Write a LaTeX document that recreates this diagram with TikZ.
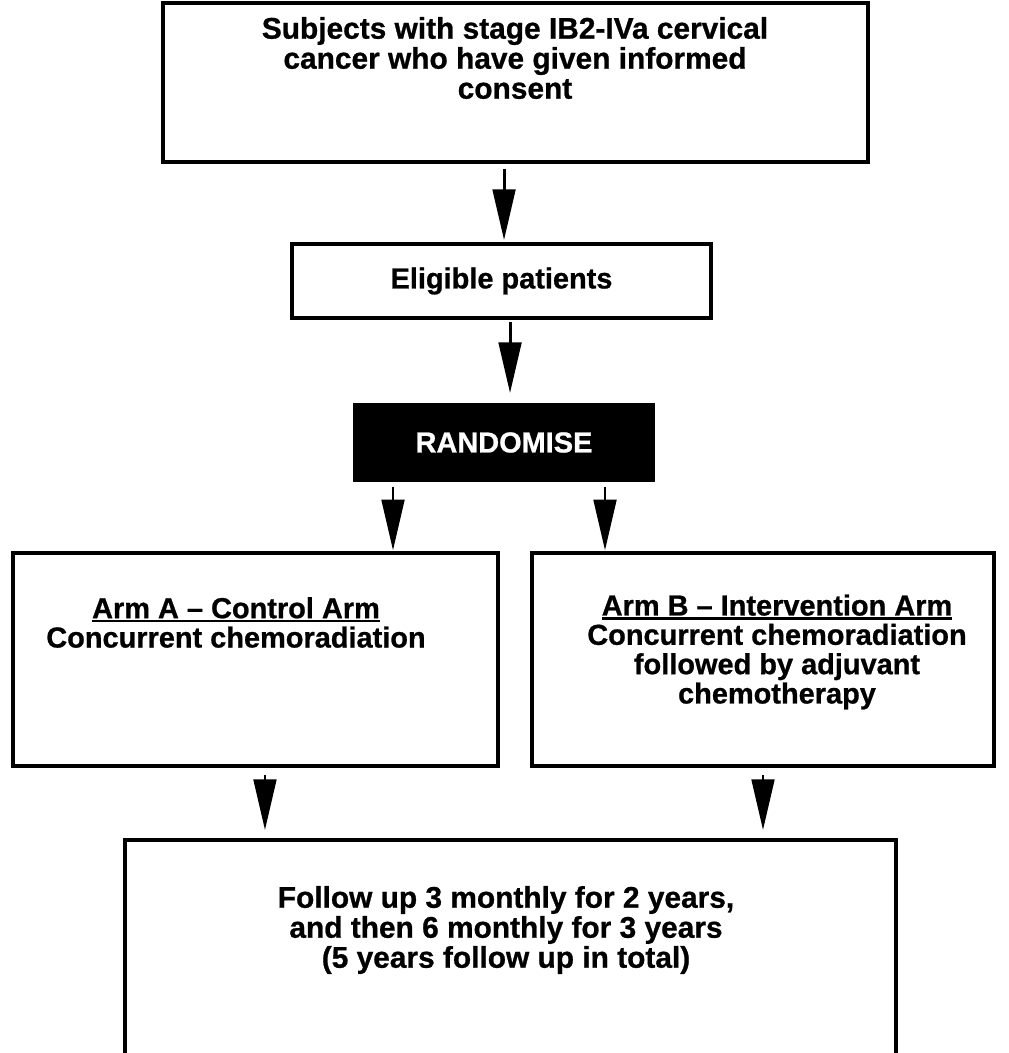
\documentclass[tikz,border=0pt]{standalone}
\usepackage{fontspec}
\setmainfont{Liberation Sans}[BoldFeatures={FakeBold=0.8}]
\usetikzlibrary{arrows.meta,positioning}

\newcommand{\armtitle}[1]{\setbox0\hbox{#1}\rlap{\rule[-3.2pt]{\wd0}{1.8pt}}\box0}

\tikzset{
    box/.style={draw, line width=2.8pt, inner sep=0pt, outer sep=0pt, fill=white},
    txt/.style={align=center, inner sep=0pt, font=\bfseries\fontsize{21.7}{22}\selectfont},
    bigtxt/.style={align=center, inner sep=0pt, font=\bfseries\fontsize{22.4}{22.5}\selectfont},
    arr/.style={line width=2.2pt, -{Triangle[width=17pt,length=38pt]}}
}

\begin{document}
\begin{tikzpicture}[x=0.75pt, y=-0.75pt]
    \useasboundingbox (0,0) rectangle (1008,1053);
    \clip (0,0) rectangle (1008,1053);

    % boxes
    \node[box, minimum width=528.75pt, minimum height=119.25pt] (subjects) at (515.5,82.5) {};
    \node[box, txt, minimum width=314.25pt, minimum height=55.5pt] (eligible) at (501.5,281) {Eligible patients};
    \node[box, txt, fill=black, text=white, minimum width=223.5pt, minimum height=56.25pt] (randomise) at (504,442.5) {RANDOMISE};
    \node[box, minimum width=363.75pt, minimum height=159.75pt] (armA) at (255.5,659.5) {};
    \node[box, minimum width=346.5pt, minimum height=159.75pt] (armB) at (763,659.5) {};
    \node[box, minimum width=578.25pt, minimum height=180pt] (followup) at (510.5,960) {};

    % texts
    \node[bigtxt] (subjectstxt) at (515,58) {Subjects with stage IB2-IVa cervical\\cancer who have given informed\\consent};
    \node[txt] (armAtxt) at (236,622.5) {\armtitle{Arm A -- Control Arm}\\Concurrent chemoradiation};
    \node[txt] (armBtxt) at (777,652) {\armtitle{Arm B -- Intervention Arm}\\Concurrent chemoradiation\\followed by adjuvant\\chemotherapy};
    \node[bigtxt] (followuptxt) at (506,930) {Follow up 3 monthly for 2 years,\\and then 6 monthly for 3 years\\(5 years follow up in total)};

    % arrows
    \draw[arr, shorten <=5pt, shorten >=3pt] ([xshift=-8.6pt]subjects.south) -- ([xshift=-8.6pt]subjects.south |- eligible.north);
    \draw[arr, shorten <=3pt, shorten >=9pt] ([xshift=6.4pt]eligible.south) -- ([xshift=6.4pt]eligible.south |- randomise.north);
    \draw[arr, shorten <=5pt, shorten >=2pt] ([xshift=-83.25pt]randomise.south) -- ([xshift=-83.25pt]randomise.south |- armA.north);
    \draw[arr, shorten <=5pt, shorten >=2pt] ([xshift=75.75pt]randomise.south) -- ([xshift=75.75pt]randomise.south |- armB.north);
    \draw[arr, shorten <=6.75pt, shorten >=7.5pt] ([xshift=7.1pt]armA.south) -- ([xshift=7.1pt]armA.south |- followup.north);
    \draw[arr, shorten <=6.75pt, shorten >=7.5pt] (armB.south) -- (armB.south |- followup.north);
\end{tikzpicture}
\end{document}
